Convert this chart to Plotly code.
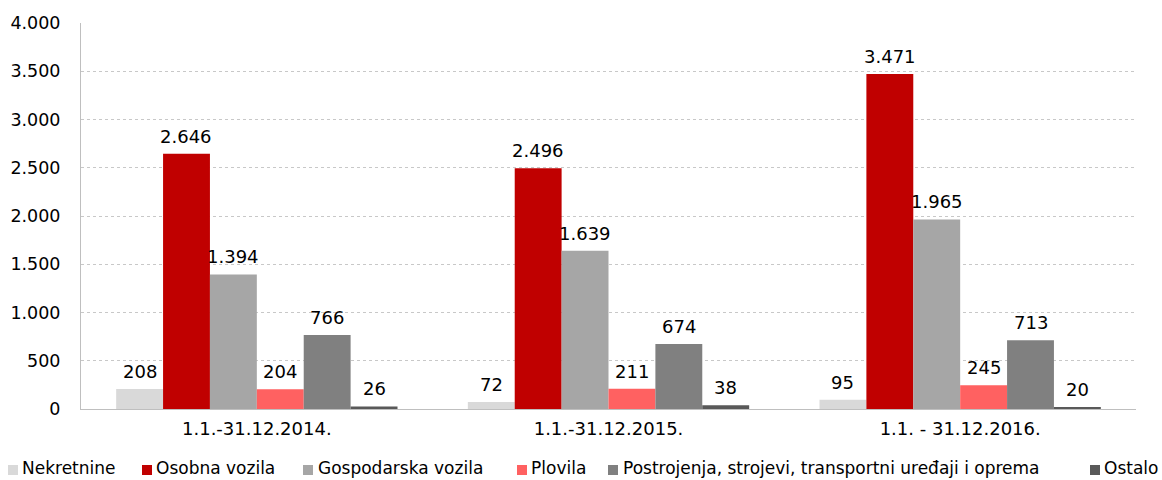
import plotly.graph_objects as go

periods = ["1.1.-31.12.2014.", "1.1.-31.12.2015.", "1.1. - 31.12.2016."]
series_names = [
    "Nekretnine",
    "Osobna vozila",
    "Gospodarska vozila",
    "Plovila",
    "Postrojenja, strojevi, transportni uređaji i oprema",
    "Ostalo",
]
nekretnine = [208, 72, 95]
osobna_vozila = [2646, 2496, 3471]
gospodarska_vozila = [1394, 1639, 1965]
plovila = [204, 211, 245]
postrojenja = [766, 674, 713]
ostalo = [26, 38, 20]
y_ticks = [0, 500, 1000, 1500, 2000, 2500, 3000, 3500, 4000]

colors = ["#D9D9D9", "#C00000", "#A6A6A6", "#FF6161", "#808080", "#595959"]
all_values = [nekretnine, osobna_vozila, gospodarska_vozila, plovila, postrojenja, ostalo]

FONT = "DejaVu Sans, Verdana, sans-serif"
W, H = 1162, 480
M_L, M_R, M_T, M_B = 81, 26, 23, 71
BARGAP = 0.2

# legend layout (pixel x of the swatch, pixel x of the label)
legend_swatch_x = [8, 142, 303, 517, 608, 1090]
legend_text_x = [21, 155, 317, 530, 622, 1103]
legend_y_px = 468


def fmt(v):
    return f"{v:,}".replace(",", ".")


plot_w = W - M_L - M_R
plot_h = H - M_T - M_B
bar_px = plot_w / len(periods) * (1 - BARGAP) / len(series_names)

fig = go.Figure()
for name, vals, col in zip(series_names, all_values, colors):
    fig.add_trace(go.Bar(
        name=name,
        x=periods,
        y=vals,
        marker=dict(color=col, line=dict(width=0)),
        showlegend=False,
    ))

annotations = []
# value labels above each bar
for i, vals in enumerate(all_values):
    shift = (i - (len(series_names) - 1) / 2) * bar_px
    for p, v in zip(periods, vals):
        annotations.append(dict(
            x=p, y=v, xref="x", yref="y",
            text=fmt(v), showarrow=False,
            xanchor="center", yanchor="bottom",
            xshift=shift, yshift=5,
            font=dict(family=FONT, size=18, color="#000000"),
        ))

shapes = []
# legend entries
for name, col, sx, tx in zip(series_names, colors, legend_swatch_x, legend_text_x):
    x0 = (sx - M_L) / plot_w
    x1 = (sx + 10 - M_L) / plot_w
    yc = (H - M_B - legend_y_px) / plot_h
    ys = (H - M_B - (legend_y_px + 2)) / plot_h
    shapes.append(dict(
        type="rect", xref="paper", yref="paper",
        x0=x0, x1=x1, y0=ys - 5 / plot_h, y1=ys + 5 / plot_h,
        fillcolor=col, line=dict(width=0),
    ))
    annotations.append(dict(
        x=(tx - M_L) / plot_w, y=yc, xref="paper", yref="paper",
        text=name, showarrow=False, xanchor="left", yanchor="middle",
        borderpad=0,
        font=dict(family=FONT, size=17, color="#000000"),
    ))

fig.update_layout(
    width=W,
    height=H,
    barmode="group",
    bargap=BARGAP,
    bargroupgap=0,
    paper_bgcolor="white",
    plot_bgcolor="white",
    font=dict(family=FONT, size=17, color="#000000"),
    margin=dict(l=M_L, r=M_R, t=M_T, b=M_B, autoexpand=False),
    showlegend=False,
    annotations=annotations,
    shapes=shapes,
    xaxis=dict(
        showline=True,
        linecolor="#BFBFBF",
        linewidth=1,
        ticks="",
        showgrid=False,
        tickfont=dict(family=FONT, size=18),
        ticklabelstandoff=3,
    ),
    yaxis=dict(
        range=[0, 4000],
        tickvals=y_ticks,
        ticktext=[fmt(t) for t in y_ticks],
        showline=True,
        linecolor="#BFBFBF",
        linewidth=1,
        showgrid=True,
        gridcolor="#C8C8C8",
        griddash="dot",
        gridwidth=1,
        zeroline=False,
        ticks="",
        ticklabelstandoff=16,
        tickfont=dict(family=FONT, size=17.5),
    ),
)

fig.write_html("out.html")
